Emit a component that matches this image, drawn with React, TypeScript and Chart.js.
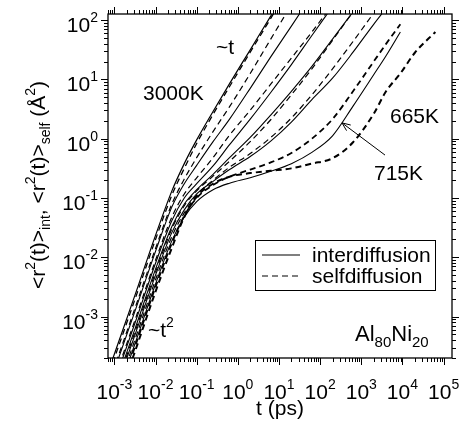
import React, { useEffect, useRef } from "react";
import { Chart, registerables } from "chart.js";

Chart.register(...registerables);

const FONT = "'Liberation Sans', Arial, Helvetica, sans-serif";

// time grid (ps)
const times = [6.3e-4, 3.2e-3, 0.01, 0.025, 0.05, 0.1, 0.25, 0.63, 2.0, 6.3, 20, 63, 200, 630, 2000, 4000, 8900, 20000, 63000];

// interdiffusion MSD (solid)
const intT1 = [9.33e-5, 2.34e-3, 2.34e-2, 0.132, 0.38, 0.955, 2.88, 8.51, 31.6, 117, 417]; // 3000K
const intT2 = [5.01e-5, 1.26e-3, 1.26e-2, 7.08e-2, 0.174, 0.355, 0.891, 2.14, 7.08, 24.0, 79.4, 263];
const intT3 = [3.16e-5, 7.94e-4, 7.94e-3, 4.17e-2, 0.1, 0.174, 0.347, 0.794, 2.14, 6.03, 17.8, 55.0, 170];
const intT4 = [2.51e-5, 6.31e-4, 6.31e-3, 3.31e-2, 7.94e-2, 0.138, 0.251, 0.479, 1.05, 2.51, 6.31, 16.6, 47.9, 138];
const intT5 = [2.0e-5, 5.01e-4, 5.01e-3, 2.63e-2, 6.31e-2, 0.117, 0.191, 0.302, 0.501, 0.912, 1.91, 4.57, 10.5, 28.8, 85.1, 158];
const intT6 = [1.41e-5, 3.55e-4, 3.55e-3, 1.91e-2, 4.79e-2, 8.71e-2, 0.138, 0.178, 0.219, 0.282, 0.38, 0.589, 1.12, 3.55, 12.0, 25.1, 63.1]; // 715K

// selfdiffusion MSD (dashed)
const selfT1 = [7.94e-5, 2.0e-3, 2.0e-2, 0.112, 0.316, 0.832, 2.57, 7.59, 28.8, 107, 398]; // 3000K
const selfT2 = [5.62e-5, 1.41e-3, 1.41e-2, 7.94e-2, 0.209, 0.479, 1.32, 3.47, 12.6, 47.9, 182];
const selfT3 = [3.55e-5, 8.91e-4, 8.91e-3, 4.79e-2, 0.117, 0.219, 0.479, 1.15, 3.02, 8.32, 22.9, 63.1, 182];
const selfT4 = [2.24e-5, 5.62e-4, 5.62e-3, 3.02e-2, 7.41e-2, 0.132, 0.234, 0.417, 0.891, 2.09, 5.5, 15.1, 45.7, 138];
const selfT5 = [1.66e-5, 4.17e-4, 4.17e-3, 2.24e-2, 5.62e-2, 0.112, 0.2, 0.331, 0.562, 1.05, 2.24, 5.5, 15.1, 43.7, 132, 263];
const selfT6 = [1.26e-5, 3.16e-4, 3.16e-3, 1.74e-2, 5.01e-2, 0.1, 0.166, 0.229, 0.302, 0.398, 0.575, 1.0, 2.14, 6.31, 20.0, 39.8, 85.1]; // 715K
const selfT7 = [1.05e-5, 2.63e-4, 2.63e-3, 1.45e-2, 4.79e-2, 0.105, 0.174, 0.229, 0.263, 0.288, 0.316, 0.38, 0.468, 0.871, 2.63, 6.31, 12.6, 28.2, 63.1]; // 665K

const xTickExponents = [-3, -2, -1, 0, 1, 2, 3, 4, 5];
const yTickExponents = [-3, -2, -1, 0, 1, 2];
const legendLabels = ["interdiffusion", "selfdiffusion"];

const X_MIN = 7e-4, X_MAX = 1.6e5, Y_MIN = 2e-4, Y_MAX = 127;

type Part = [string, number, number];

function richWidth(ctx: CanvasRenderingContext2D, parts: Part[]) {
  let w = 0;
  for (const [t, s] of parts) {
    ctx.font = `${s}px ${FONT}`;
    w += ctx.measureText(t).width;
  }
  return w;
}

function drawRich(ctx: CanvasRenderingContext2D, parts: Part[], x: number, y: number, align: "left" | "center" | "right") {
  const w = richWidth(ctx, parts);
  let cx = align === "left" ? x : align === "center" ? x - w / 2 : x - w;
  ctx.textAlign = "left";
  ctx.textBaseline = "alphabetic";
  for (const [t, s, dy] of parts) {
    ctx.font = `${s}px ${FONT}`;
    ctx.fillText(t, cx, y + dy);
    cx += ctx.measureText(t).width;
  }
}

const framePlugin = {
  id: "framePlugin",
  afterDraw(chart: any) {
    const { ctx, chartArea: a, scales } = chart;
    const xs = scales.x, ys = scales.y;
    ctx.save();
    ctx.strokeStyle = "#000";
    ctx.fillStyle = "#000";
    ctx.setLineDash([]);
    // frame
    ctx.lineWidth = 1.3;
    ctx.strokeRect(a.left, a.top, a.right - a.left, a.bottom - a.top);
    // ticks
    ctx.lineWidth = 1;
    for (let d = -4; d <= 5; d++) {
      for (let m = 1; m <= 9; m++) {
        const v = m * Math.pow(10, d);
        const len = m === 1 ? 7 : 4;
        if (v >= X_MIN && v <= X_MAX) {
          const px = Math.round(xs.getPixelForValue(v)) + 0.5;
          ctx.beginPath();
          ctx.moveTo(px, a.bottom); ctx.lineTo(px, a.bottom + len);
          ctx.moveTo(px, a.top); ctx.lineTo(px, a.top - len);
          ctx.stroke();
        }
        if (v >= Y_MIN && v <= Y_MAX) {
          const py = Math.round(ys.getPixelForValue(v)) + 0.5;
          ctx.beginPath();
          ctx.moveTo(a.left, py); ctx.lineTo(a.left - len, py);
          ctx.moveTo(a.right, py); ctx.lineTo(a.right + len, py);
          ctx.stroke();
        }
      }
    }
    // tick labels
    for (const e of xTickExponents) {
      const px = xs.getPixelForValue(Math.pow(10, e));
      drawRich(ctx, [["10", 21, 0], [String(e), 14, -10]], px, 399, "center");
    }
    for (const e of yTickExponents) {
      const py = ys.getPixelForValue(Math.pow(10, e));
      drawRich(ctx, [["10", 21, 0], [String(e), 14, -10]], a.left - 10, py + 12, "right");
    }
    // axis titles
    drawRich(ctx, [["t (ps)", 21, 0]], (a.left + a.right) / 2, 415, "center");
    ctx.save();
    ctx.translate(45, 185);
    ctx.rotate(-Math.PI / 2);
    drawRich(ctx, [
      ["<r", 21, 0], ["2", 14, -10], ["(t)>", 21, 0], ["int", 14, 5],
      [", <r", 21, 0], ["2", 14, -10], ["(t)>", 21, 0], ["self", 14, 5],
      [" (Å", 21, 0], ["2", 14, -10], [")", 21, 0],
    ], 0, 0, "center");
    ctx.restore();
    // annotations
    drawRich(ctx, [["~t", 21, 0]], 216, 54, "left");
    drawRich(ctx, [["3000K", 21, 0]], 143, 100, "left");
    drawRich(ctx, [["665K", 21, 0]], 390, 123, "left");
    drawRich(ctx, [["715K", 21, 0]], 374, 180, "left");
    drawRich(ctx, [["~t", 21, 0], ["2", 14, -10]], 148, 337, "left");
    drawRich(ctx, [["Al", 22, 0], ["80", 15, 6], ["Ni", 22, 0], ["20", 15, 6]], 355, 341, "left");
    // arrow to 715K curve
    const hx = xs.getPixelForValue(340), hy = ys.getPixelForValue(1.85);
    const tx = xs.getPixelForValue(3770), ty = ys.getPixelForValue(0.53);
    ctx.lineWidth = 1;
    ctx.beginPath();
    ctx.moveTo(tx, ty); ctx.lineTo(hx, hy);
    const ang = Math.atan2(ty - hy, tx - hx);
    for (const s of [-0.4, 0.4]) {
      ctx.moveTo(hx, hy);
      ctx.lineTo(hx + 9 * Math.cos(ang + s), hy + 9 * Math.sin(ang + s));
    }
    ctx.stroke();
    // legend box
    ctx.fillStyle = "#fff";
    ctx.fillRect(255.5, 240.5, 180, 50);
    ctx.strokeRect(255.5, 240.5, 180, 50);
    ctx.fillStyle = "#000";
    ctx.lineWidth = 1.2;
    ctx.beginPath(); ctx.moveTo(262, 255); ctx.lineTo(300, 255); ctx.stroke();
    ctx.setLineDash([6, 4]);
    ctx.beginPath(); ctx.moveTo(262, 276); ctx.lineTo(300, 276); ctx.stroke();
    ctx.setLineDash([]);
    drawRich(ctx, [[legendLabels[0], 21, 0]], 312, 262, "left");
    drawRich(ctx, [[legendLabels[1], 21, 0]], 312, 283, "left");
    ctx.restore();
  },
};

const toPoints = (arr: number[]) => arr.map((y, i) => ({ x: times[i], y }));

export default function App() {
  const ref = useRef<HTMLCanvasElement | null>(null);
  useEffect(() => {
    if (!ref.current) return;
    const series: { data: number[]; dash: boolean; w: number }[] = [
      { data: intT1, dash: false, w: 1.2 },
      { data: intT2, dash: false, w: 1.1 },
      { data: intT3, dash: false, w: 1.1 },
      { data: intT4, dash: false, w: 1.1 },
      { data: intT5, dash: false, w: 1.1 },
      { data: intT6, dash: false, w: 1.1 },
      { data: selfT1, dash: true, w: 1.3 },
      { data: selfT2, dash: true, w: 1.2 },
      { data: selfT3, dash: true, w: 1.2 },
      { data: selfT4, dash: true, w: 1.2 },
      { data: selfT5, dash: true, w: 1.2 },
      { data: selfT6, dash: true, w: 1.8 },
      { data: selfT7, dash: true, w: 2.0 },
    ];
    const chart = new Chart(ref.current, {
      type: "line",
      data: {
        datasets: series.map((s) => ({
          data: toPoints(s.data),
          borderColor: "#000",
          borderWidth: s.w,
          borderDash: s.dash ? [6, 4] : [],
          pointRadius: 0,
          fill: false,
          cubicInterpolationMode: "monotone" as const,
        })),
      },
      options: {
        responsive: false,
        animation: false,
        layout: { padding: { left: 108, top: 14, right: 12, bottom: 70 } },
        plugins: { legend: { display: false }, tooltip: { enabled: false } },
        scales: {
          x: { type: "logarithmic", min: X_MIN, max: X_MAX, display: false },
          y: { type: "logarithmic", min: Y_MIN, max: Y_MAX, display: false },
        },
      },
      plugins: [framePlugin],
    });
    return () => chart.destroy();
  }, []);
  return (
    <div style={{ position: "absolute", left: 0, top: 0, width: 464, height: 428, background: "#fff" }}>
      <canvas ref={ref} width={464} height={428} style={{ width: 464, height: 428, display: "block" }} />
    </div>
  );
}
